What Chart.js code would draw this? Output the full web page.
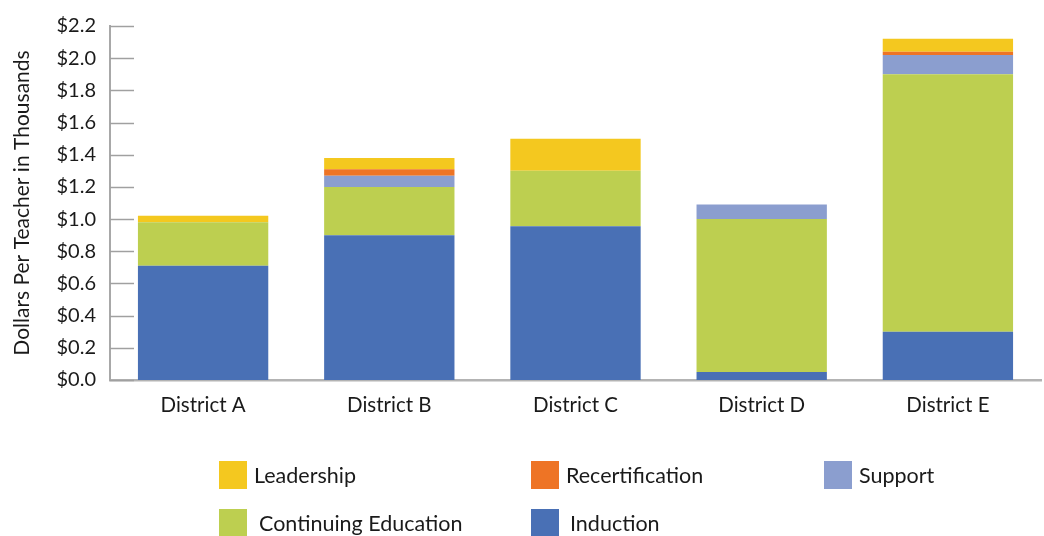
<!DOCTYPE html>
<html lang="en">
<head>
<meta charset="UTF-8">
<title>Dollars Per Teacher by District</title>
<style>
  html, body { margin: 0; padding: 0; background: #fff; }
  #wrap { position: relative; width: 1044px; height: 536px; overflow: hidden; }
  #legend { position: absolute; left: 0; top: 0; width: 1044px; height: 536px; pointer-events: none;
            font-family: Lato, "Noto Sans", sans-serif; font-size: 21.5px; color: #1a1a1a; }
  .item { position: absolute; height: 28px; display: flex; align-items: center; white-space: nowrap; }
  .box { width: 28px; height: 28px; margin-right: 8px; }
</style>
</head>
<body>
<div id="wrap">
  <canvas id="myChart" width="1044" height="536"></canvas>
  <div id="legend"></div>
</div>

<script src="https://cdn.jsdelivr.net/npm/chart.js@4.4.0/dist/chart.umd.min.js"></script>
<script>
var districts = ['District A', 'District B', 'District C', 'District D', 'District E'];

// thousands of dollars per teacher, per category
var induction   = [0.71, 0.90, 0.955, 0.05, 0.30];
var continuing  = [0.27, 0.30, 0.345, 0.95, 1.60];
var support     = [0,    0.07, 0,     0.09, 0.12];
var recert      = [0,    0.04, 0,     0,    0.02];
var leadership  = [0.04, 0.07, 0.20,  0,    0.08];

var yTicks = [0, 0.2, 0.4, 0.6, 0.8, 1.0, 1.2, 1.4, 1.6, 1.8, 2.0, 2.2];

var colors = {
    leadership: '#F4C81F',
    recert: '#EE7425',
    support: '#8B9ECF',
    continuing: '#BDCF50',
    induction: '#4970B5'
};

var fontFamily = 'Lato, "Noto Sans", sans-serif';

// short tick marks pointing into the plot from the y axis
var innerTicks = {
    id: 'innerTicks',
    afterDatasetsDraw: function(chart) {
        var y = chart.scales.y;
        var ctx = chart.ctx;
        ctx.save();
        ctx.strokeStyle = '#a0a0a0';
        ctx.lineWidth = 1.5;
        yTicks.forEach(function(v) {
            var py = Math.round(y.getPixelForValue(v)) + 0.5;
            ctx.beginPath();
            ctx.moveTo(y.right, py);
            ctx.lineTo(y.right + 24, py);
            ctx.stroke();
        });
        ctx.restore();
    }
};

var ctx = document.getElementById('myChart').getContext('2d');
var chart = new Chart(ctx, {
    type: 'bar',
    data: {
        labels: districts,
        datasets: [
            { label: 'Induction', data: induction, backgroundColor: colors.induction },
            { label: 'Continuing Education', data: continuing, backgroundColor: colors.continuing },
            { label: 'Support', data: support, backgroundColor: colors.support },
            { label: 'Recertification', data: recert, backgroundColor: colors.recert },
            { label: 'Leadership', data: leadership, backgroundColor: colors.leadership }
        ]
    },
    options: {
        responsive: false,
        animation: false,
        layout: { padding: { top: 20, right: 3, bottom: 0, left: 0 } },
        datasets: { bar: { categoryPercentage: 0.7, barPercentage: 1.0, borderWidth: 0 } },
        plugins: {
            legend: { display: false },
            tooltip: { enabled: false }
        },
        scales: {
            x: {
                stacked: true,
                grid: { display: false, drawTicks: false },
                border: { display: true, color: '#b3b3b3', width: 2.5 },
                ticks: { color: '#1a1a1a', padding: 13, font: { family: fontFamily, size: 20.5 } },
                afterFit: function(scale) { scale.height = 156; }
            },
            y: {
                stacked: true,
                min: 0,
                max: 2.2,
                grid: { display: false, drawTicks: false },
                border: { display: true, color: '#a8a8a8', width: 2 },
                afterBuildTicks: function(scale) {
                    scale.ticks = yTicks.map(function(v) { return { value: v }; });
                },
                ticks: {
                    color: '#1a1a1a',
                    padding: 14,
                    font: { family: fontFamily, size: 20 },
                    callback: function(v) { return '$' + Number(v).toFixed(1); }
                },
                title: {
                    display: true,
                    text: 'Dollars Per Teacher in Thousands',
                    color: '#1a1a1a',
                    padding: { top: 10, bottom: 0 },
                    font: { family: fontFamily, size: 21 }
                },
                afterFit: function(scale) { scale.width = 110; }
            }
        }
    },
    plugins: [innerTicks]
});

// legend in three columns, built from the chart's datasets
var legendSlots = [
    { label: 'Leadership', left: 219, top: 461, gap: 7 },
    { label: 'Recertification', left: 531, top: 461, gap: 7 },
    { label: 'Support', left: 824, top: 461, gap: 7 },
    { label: 'Continuing Education', left: 219, top: 509, gap: 12 },
    { label: 'Induction', left: 531, top: 509, gap: 11 }
];
var legendEl = document.getElementById('legend');
legendSlots.forEach(function(slot) {
    var ds = chart.data.datasets.find(function(d) { return d.label === slot.label; });
    var item = document.createElement('div');
    item.className = 'item';
    item.style.left = slot.left + 'px';
    item.style.top = slot.top + 'px';
    var box = document.createElement('span');
    box.className = 'box';
    box.style.background = ds.backgroundColor;
    box.style.marginRight = slot.gap + 'px';
    var txt = document.createElement('span');
    txt.textContent = ds.label;
    item.appendChild(box);
    item.appendChild(txt);
    legendEl.appendChild(item);
});
</script>
</body>
</html>
